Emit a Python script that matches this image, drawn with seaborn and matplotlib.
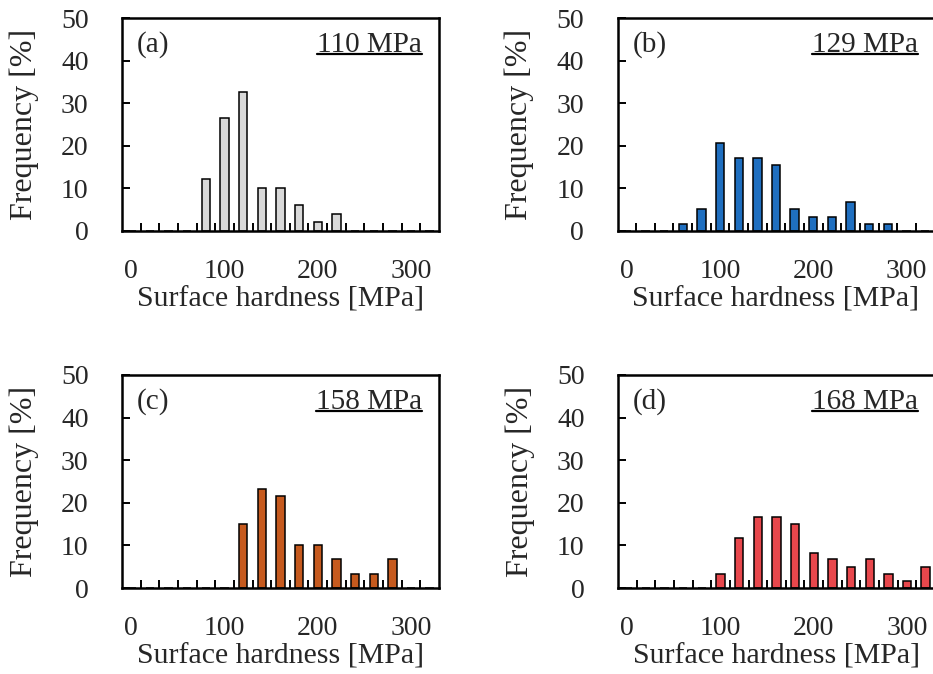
import matplotlib
matplotlib.use("Agg")
import matplotlib.pyplot as plt
import seaborn as sns
import pandas as pd
import numpy as np

# Surface hardness classes (MPa), 20 MPa wide
hardness_bins = list(range(0, 340, 20))
hardness_labels = [str(b) for b in hardness_bins]
axis_tick_labels = ["0", "100", "200", "300"]

# Frequency [%] per hardness class for the four specimens
freq_a = [0, 0, 0, 0, 12.2, 26.5, 32.7, 10.2, 10.2, 6.1, 2.0, 4.1, 0, 0, 0, 0, 0]
freq_b = [0, 0, 0, 1.7, 5.2, 20.7, 17.2, 17.2, 15.5, 5.2, 3.4, 3.4, 6.9, 1.7, 1.7, 0, 0]
freq_c = [0, 0, 0, 0, 0, 0, 15.0, 23.3, 21.7, 10.0, 10.0, 6.7, 3.3, 3.3, 6.7, 0, 0]
freq_d = [0, 0, 0, 0, 0, 3.3, 11.7, 16.7, 16.7, 15.0, 8.3, 6.7, 5.0, 6.7, 3.3, 1.7, 5.0]

panel_tags = ["(a)", "(b)", "(c)", "(d)"]
mean_labels = ["110 MPa", "129 MPa", "158 MPa", "168 MPa"]
bar_colors = ["#D9D9D9", "#1F6FC0", "#C65A1E", "#E8474C"]

sns.set_theme(style="white")
plt.rcParams["font.family"] = ["Liberation Serif", "DejaVu Serif"]
plt.rcParams["axes.linewidth"] = 1.8

W, H = 933, 674
fig = plt.figure(figsize=(W / 100, H / 100), dpi=100)

# axes boxes in pixels: left, top, width, height
boxes = [(122, 18, 317, 213), (617.5, 18, 317, 213),
         (122, 375, 317, 213), (618, 375, 317, 213)]

freqs = [freq_a, freq_b, freq_c, freq_d]
TICK_FS = 20
axes = []
for i, (box, freq) in enumerate(zip(boxes, freqs)):
    l, t, w, h = box
    ax = fig.add_axes([l / W, 1 - (t + h) / H, w / W, h / H])
    df = pd.DataFrame({"hardness": hardness_labels, "freq": freq})
    sns.barplot(data=df, x="hardness", y="freq", order=hardness_labels,
                color=bar_colors[i], saturation=1, width=0.45,
                edgecolor="black", linewidth=1.1, ax=ax)
    ax.set_xlim(-0.5, len(hardness_bins) - 0.5)
    ax.set_ylim(0, 50)
    ax.set_yticks(range(0, 51, 10))
    ax.set_xticks([0, 5, 10, 15])
    ax.set_xticklabels(axis_tick_labels)
    ax.set_xticks(np.arange(0.5, len(hardness_bins) - 1, 1), minor=True)
    ax.tick_params(axis="x", which="major", length=0, pad=20,
                   labelsize=TICK_FS)
    ax.tick_params(axis="x", which="minor", direction="in", length=5.5,
                   width=1.4, color="black", bottom=True)
    ax.tick_params(axis="y", which="major", direction="in", length=5.5,
                   width=1.4, color="black", pad=24, labelsize=TICK_FS,
                   left=True)
    for s in ax.spines.values():
        s.set_color("black")
        s.set_linewidth(1.8)
    ax.set_xlabel("Surface hardness [MPa]", fontsize=21.5, labelpad=2)
    ax.set_ylabel("Frequency [%]", fontsize=23, labelpad=16)
    ax.text(0.047, 0.875, panel_tags[i], transform=ax.transAxes,
            fontsize=21, ha="left", va="center")
    ax.text(0.947, 0.875, mean_labels[i], transform=ax.transAxes,
            fontsize=21, ha="right", va="center", gid="mean")
    axes.append(ax)

# underline the mean hardness labels
fig.canvas.draw()
renderer = fig.canvas.get_renderer()
inv = fig.transFigure.inverted()
for ax in axes:
    for txt in ax.texts:
        if txt.get_gid() == "mean":
            bb = txt.get_window_extent(renderer)
            (x0, y0), (x1, y1) = inv.transform([(bb.x0, bb.y0), (bb.x1, bb.y1)])
            yline = y0 + 0.15 * (y1 - y0)
            fig.add_artist(plt.Line2D([x0, x1], [yline, yline],
                                      transform=fig.transFigure,
                                      color="black", linewidth=1.6))

fig.savefig("out.png", dpi=100)
